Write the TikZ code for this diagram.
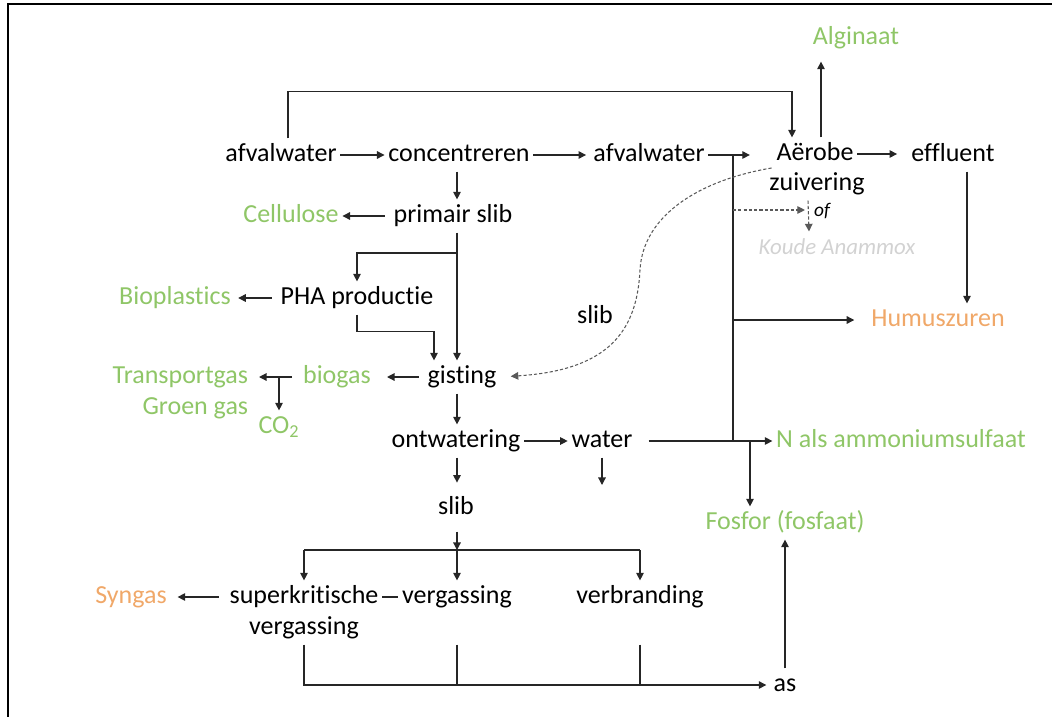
\documentclass[tikz,border=0pt]{standalone}
\usepackage{fontspec}
\setmainfont{Carlito}[Ligatures=NoCommon]
\usetikzlibrary{calc,arrows.meta}
\definecolor{groen}{RGB}{143,198,103}
\definecolor{oranje}{RGB}{240,168,105}
\definecolor{grijs}{RGB}{210,210,210}
\tikzset{
	txt/.style={inner sep=2pt, text height=11pt, text depth=3.5pt, font=\fontsize{14.8}{17}\selectfont},
	grtxt/.style={txt, text=groen},
	ortxt/.style={txt, text=oranje},
	lijn/.style={draw=black!85, line width=0.7pt},
	pijl/.style={lijn, -{Triangle[length=4.3pt,width=4.3pt]}},
	stip/.style={draw=black!65, line width=0.6pt, dash pattern=on 1.8pt off 1.2pt, -{Triangle[length=4.3pt,width=4.3pt]}}
}

\begin{document}
\begin{tikzpicture}[x=0.02cm, y=-0.02cm]
			%%%%% START %%%%%
			\useasboundingbox (0,0) rectangle (1052,717);
			\draw[line width=1.4pt] (8,717) -- (8,4) -- (1052,4);
			
			% hoofdlijn
			\node[txt] (afv1) at (281,155) {afvalwater};
			\node[txt] (conc) at (459,155) {concentreren};
			\node[txt] (afv2) at (649,155) {afvalwater};
			\node[txt] (aer) at (815,154) {Aërobe};
			\node[txt] (zuiv) at (817,184) {zuivering};
			\node[txt] (effl) at (953,155) {effluent};
			\node[grtxt] (algi) at (856,38) {Alginaat};
			\node[txt, font=\fontsize{11}{13}\selectfont\itshape, inner sep=1pt] (of) at (822,210) {of};
			\node[txt, text=grijs, font=\fontsize{13}{15}\selectfont\itshape] (koude) at (837,248) {Koude Anammox};
			\node[ortxt] (humus) at (938,320) {Humuszuren};
			
			% slib en gisting
			\node[txt] (prim) at (453,216) {primair slib};
			\node[grtxt] (cell) at (291,216) {Cellulose};
			\node[txt] (pha) at (357,298) {PHA productie};
			\node[grtxt] (biopl) at (175,298) {Bioplastics};
			\node[txt] (gist) at (462,377) {gisting};
			\node[grtxt] (biog) at (337,377) {biogas};
			\node[grtxt, anchor=east] (trans) at (252,377) {Transportgas};
			\node[grtxt, anchor=east] (groen) at (252,408) {Groen gas};
			\node[grtxt] (co2) at (279,427) {CO\textsubscript{2}};
			\node[txt] (slibl) at (595,317) {slib};
			
			% ontwatering
			\node[txt] (ontw) at (456,441) {ontwatering};
			\node[txt] (water) at (602,441) {water};
			\node[grtxt] (nals) at (901,441) {N als ammoniumsulfaat};
			\node[grtxt] (fosf) at (785,523) {Fosfor (fosfaat)};
			\node[txt] (slib) at (456,508) {slib};
			
			% verwerking slib
			\node[txt] (superk) at (304,597) {superkritische};
			\node[txt] (superk2) at (304,628) {vergassing};
			\node[txt] (verg) at (457,597) {vergassing};
			\node[txt] (verbr) at (640,597) {verbranding};
			\node[ortxt] (syng) at (131,597) {Syngas};
			\node[txt] (as) at (785,685) {as};
			
			\coordinate (spine) at (457,0);
			\coordinate (jw) at (733,155);
			\coordinate (pj) at (457,253);
			\coordinate (fj) at (750,441);
			\coordinate (sj) at (457,550);
			\coordinate (wout) at (602,485);
			
			% pijlen bovenaan
			\draw[pijl] ($(afv1.north)+(7,0)$) -- ++(0,-47) -| ($(aer.north)+(-23,0)$);
			\draw[pijl] (afv1) -- (conc);
			\draw[pijl, shorten >=2pt] (conc) -- (afv2);
			\draw[pijl, shorten >=13pt] (afv2.east) -- (afv2.east -| aer.west);
			\draw[pijl, shorten >=4pt] ($(aer.north)+(6,0)$) -- ($(algi.south)+(-35,0)$);
			\draw[pijl, shorten >=6pt] (aer.east) -- (aer.east -| effl.west);
			\draw[pijl] ($(effl.south)+(14,0)$) -- ($(humus.north)+(29,0)$);
			\draw[lijn] (jw) -- (jw |- water);
			\draw[pijl, shorten >=7.5pt] (jw |- humus) -- (humus.west);
			\draw[stip, shorten >=4pt] (jw |- of) -- (of.west);
			\draw[stip] ($(zuiv.south)+(-9,0)$) -- ($(koude.north)+(-28,0)$);
			\draw[stip, shorten >=6pt] ($(zuiv.west)+(6,-16)$) .. controls (700,180) and (643,215) .. (640,270) .. controls (637,330) and (610,370) .. (gist.east);
			
			% primair slib
			\draw[pijl] (conc.south -| spine) -- (spine |- prim.north);
			\draw[pijl, shorten <=3pt] (prim) -- (cell);
			\draw[pijl] (spine |- prim.south) -- (spine |- gist.north);
			\draw[pijl] (pj) -| (pha.north);
			\draw[pijl] (pha.south) -- ++(0,17) -| ($(gist.north)+(-28,0)$);
			\draw[pijl, shorten <=3pt, shorten >=2pt] (pha) -- (biopl);
			\draw[pijl, shorten <=3pt, shorten >=7pt] (gist) -- (biog);
			\draw[pijl, shorten <=4pt, shorten >=4pt] (biog) -- (trans);
			\draw[pijl] (co2.north |- biog) -- (co2.north);
			
			% ontwatering
			\draw[pijl] (spine |- gist.south) -- (spine |- ontw.north);
			\draw[pijl] (ontw) -- (water);
			\draw[pijl, shorten <=7pt] (water) -- (nals);
			\draw[pijl] (water.south) -- (wout);
			\draw[pijl] (fj) -- (fj |- fosf.north);
			\draw[pijl, shorten >=5pt] (spine |- ontw.south) -- (spine |- slib.north);
			\draw[pijl, shorten <=4pt] (spine |- slib.south) -- (sj);
			
			% vergassing en verbranding
			\draw[lijn] (superk.north |- sj) -- (verbr.north |- sj);
			\draw[pijl] (superk.north |- sj) -- (superk.north);
			\draw[pijl] (sj) -- (sj |- verg.north);
			\draw[pijl] (verbr.north |- sj) -- (verbr.north);
			\draw[pijl, shorten <=4pt, shorten >=4pt] (superk) -- (syng);
			\draw[lijn] (superk) -- (verg);
			\draw[pijl, shorten >=2pt] (superk2.south) |- (as);
			\draw[lijn] (verg |- superk2.south) -- (verg |- as);
			\draw[lijn] (verbr |- superk2.south) -- (verbr |- as);
			\draw[pijl] (as.north) -- (fosf.south);
			%%%%% END %%%%%
\end{tikzpicture}
\end{document}
